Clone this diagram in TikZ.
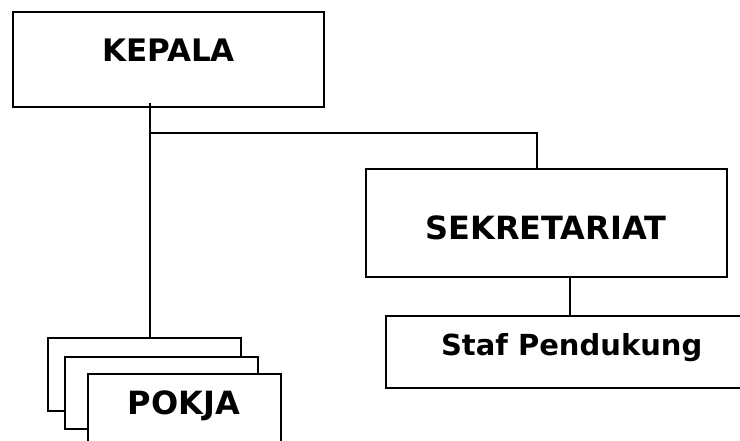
\documentclass[tikz,border=0pt]{standalone}
\usepackage{fontspec}
\setmainfont{DejaVu Sans}
\begin{document}
\begin{tikzpicture}[x=1pt,y=-1pt,
  box/.style={draw=black,line width=1.8pt,fill=white,inner sep=0pt,rectangle},
  txt/.style={anchor=base,inner sep=0pt,font=\bfseries},
  conn/.style={draw=black,line width=1.8pt}]
\clip (0,0) rectangle (740,441);
\fill[white] (0,0) rectangle (740,441);
% boxes
\node[box,minimum width=311.6pt,minimum height=95pt] (kepala) at (168.5,59.8) {};
\node[box,minimum width=361.6pt,minimum height=107.4pt] (sek) at (546.5,223) {};
\node[box,minimum width=380pt,minimum height=72.3pt] (staf) at (575.7,352.15) {};
\node[box,minimum width=193pt,minimum height=72.4pt] (pokja1) at (144.8,374.5) {};
\node[box,minimum width=192.7pt,minimum height=71.7pt] (pokja2) at (161.35,392.85) {};
\node[box,minimum width=193pt,minimum height=90pt] (pokja3) at (184.2,418.7) {};
% texts
\node[txt,font=\fontsize{31}{36}\selectfont\bfseries] (kepalaT) at (168.5,62) {KEPALA};
\node[txt,font=\fontsize{32}{38}\selectfont\bfseries] (sekT) at (545.8,240) {SEKRETARIAT};
\node[txt,font=\fontsize{29}{34}\selectfont\bfseries] (stafT) at (571.7,355) {Staf Pendukung};
\node[txt,font=\fontsize{32}{38}\selectfont\bfseries] (pokjaT) at (184,414.3) {POKJA};
% connectors
\coordinate (k1) at ([xshift=-18.5pt,yshift=5.6pt]kepala.south);
\coordinate (j) at (150,132.7);
\draw[conn] (k1) -- (k1 |- pokja1.north);
\draw[conn] (j) -| ([xshift=-9.2pt]sek.north);
\draw[conn] ([xshift=23.2pt]sek.south) coordinate (s1) -- (s1 |- staf.north);
\end{tikzpicture}
\end{document}
